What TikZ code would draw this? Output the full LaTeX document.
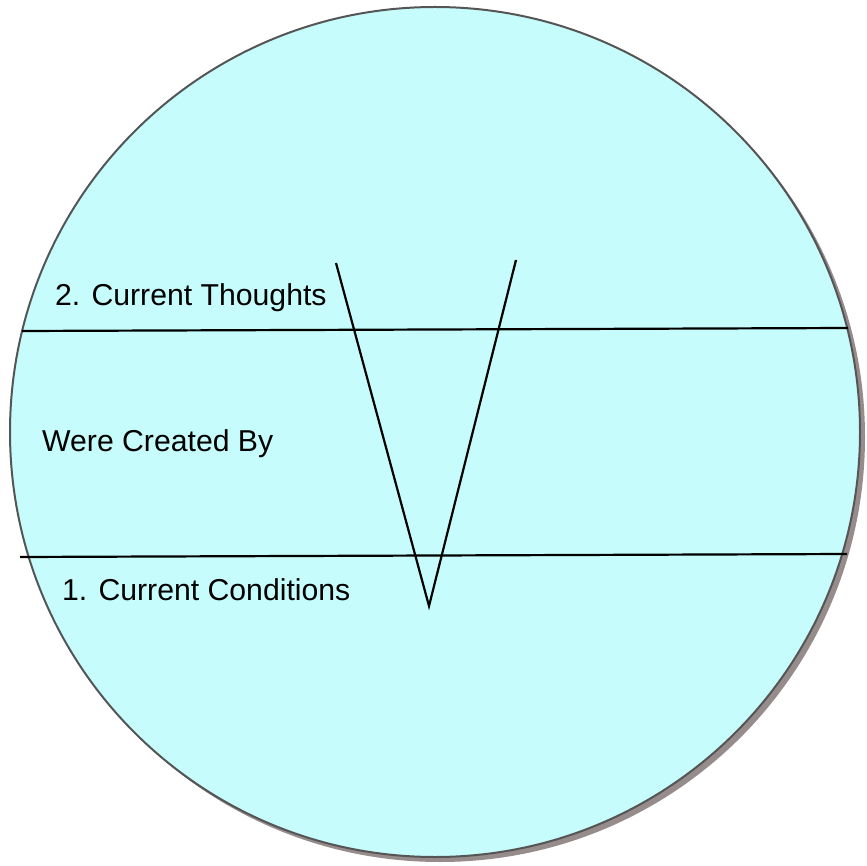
\documentclass[tikz,border=0pt]{standalone}
\usepackage{fontspec}
\setmainfont{Liberation Sans}
\begin{document}
\begin{tikzpicture}[x=1pt,y=-1pt,
  lbl/.style={anchor=base west,inner sep=0pt,font=\fontsize{30.2}{36}\selectfont},
  ln/.style={line width=2.2pt,black}]
\useasboundingbox (0,0) rectangle (867,866);
\definecolor{discfill}{RGB}{198,252,252}
\definecolor{discedge}{RGB}{85,85,85}
\definecolor{discshadow}{RGB}{150,140,140}
% shadow and disc
\fill[discshadow] (440,437) circle[radius=425];
\draw[fill=discfill,draw=discedge,line width=2pt] (435,432) circle[radius=425];
% horizontal lines
\coordinate (h1a) at (22,331);
\coordinate (h1b) at (848,328);
\coordinate (h2a) at (20,557);
\coordinate (h2b) at (847,554);
\draw[ln] (h1a) -- (h1b);
\draw[ln] (h2a) -- (h2b);
% V
\coordinate (vl) at (336,263);
\coordinate (vr) at (516,260);
\coordinate (vt) at (429,606);
\draw[ln,line join=miter] (vl) -- (vt) -- (vr);
% labels
\node[lbl] (thoughts) at (55,306) {2. Current Thoughts};
\node[lbl] (created) at (42,451) {Were Created By};
\node[lbl] (conditions) at (62,600.5) {1. Current Conditions};
\end{tikzpicture}
\end{document}
